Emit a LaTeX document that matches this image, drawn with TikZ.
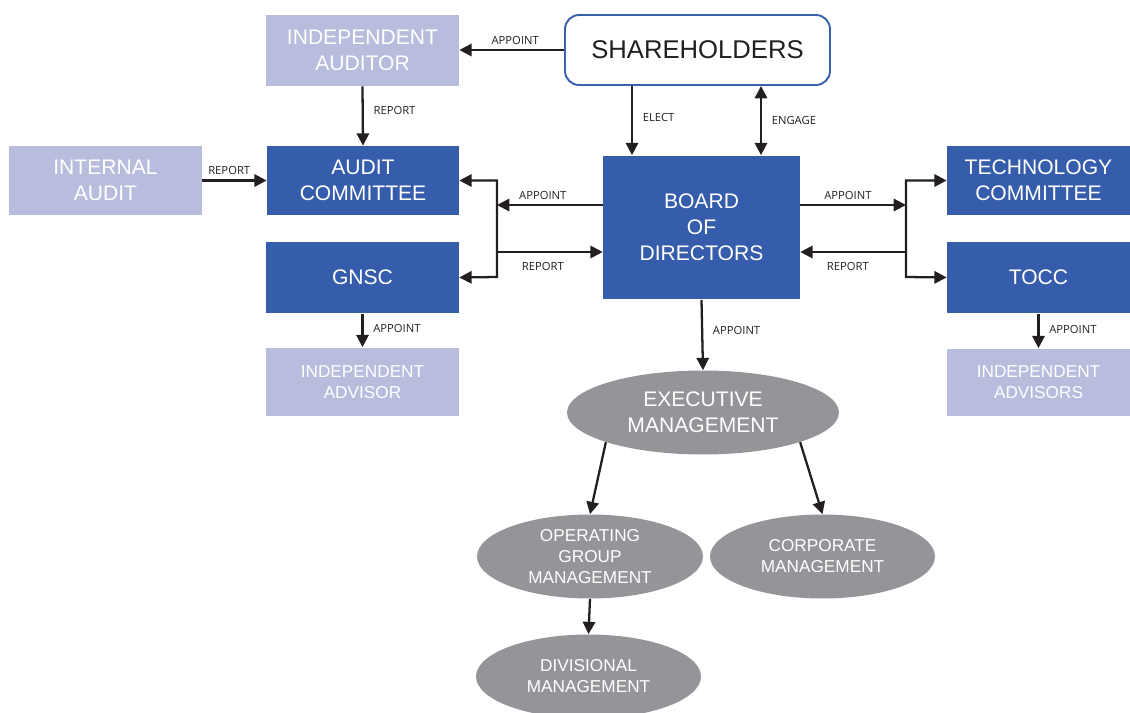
\documentclass[tikz,border=0pt]{standalone}
\usepackage{fontspec}
\setmainfont{Liberation Sans}
\newfontfamily\lblfont{Open Sans}
\usetikzlibrary{shapes.geometric,arrows.meta,calc}

\definecolor{boardblue}{HTML}{365DAB}
\definecolor{paleblue}{HTML}{B8BDDE}
\definecolor{mgmtgray}{HTML}{939598}
\definecolor{shareline}{HTML}{3A63AE}
\definecolor{inkdark}{HTML}{231F20}

\tikzset{
  bigtext/.style={font=\fontsize{12}{14.8}\selectfont},
  smalltext/.style={font=\fontsize{9.8}{12}\selectfont},
  bluebox/.style={rectangle, fill=boardblue, text=white, align=center, inner sep=0pt, bigtext},
  palebox/.style={rectangle, fill=paleblue, text=white, align=center, inner sep=0pt},
  mgmt/.style={ellipse, fill=mgmtgray, text=white, align=center, inner sep=-2pt},
  arr/.style={-{Triangle[length=7pt,width=7pt]}, line width=1.3pt, draw=inkdark},
  barr/.style={{Triangle[length=7pt,width=7pt]}-{Triangle[length=7pt,width=7pt]}, line width=1.3pt, draw=inkdark},
  lbl/.style={font=\lblfont\fontsize{6.4}{7.5}\selectfont, text=inkdark, inner sep=2.5pt}
}

\begin{document}
\begin{tikzpicture}[x=0.02cm, y=-0.02cm]
        \useasboundingbox (0,0) rectangle (1130,713);

        % Shareholders and the boxes round the board
        \node[rectangle, draw=shareline, line width=1.1pt, rounded corners=8pt, fill=white,
              text=inkdark, minimum width=5.3cm, minimum height=1.4cm,
              font=\fontsize{14.6}{16}\selectfont] (share) at (697.5,50) {SHAREHOLDERS};
        \node[palebox, bigtext, minimum width=3.86cm, minimum height=1.42cm] (indaud) at (362.5,50.5) {INDEPENDENT\\AUDITOR};
        \node[palebox, bigtext, minimum width=3.86cm, minimum height=1.38cm] (intaud) at (105.5,180.5) {INTERNAL\\AUDIT};
        \node[bluebox, minimum width=3.84cm, minimum height=1.38cm] (audit) at (363,180.5) {AUDIT\\COMMITTEE};
        \node[bluebox, minimum width=3.86cm, minimum height=1.44cm] (gnsc) at (362.5,277.5) {GNSC};
        \node[palebox, smalltext, minimum width=3.86cm, minimum height=1.38cm] (indadv) at (362.5,382) {INDEPENDENT\\ADVISOR};
        \node[bluebox, minimum width=3.94cm, minimum height=2.88cm] (board) at (701.5,227.5) {BOARD\\OF\\DIRECTORS};
        \node[bluebox, minimum width=3.66cm, minimum height=1.38cm] (tech) at (1038.5,180.5) {TECHNOLOGY\\COMMITTEE};
        \node[bluebox, minimum width=3.66cm, minimum height=1.44cm] (tocc) at (1038.5,277.5) {TOCC};
        \node[palebox, smalltext, minimum width=3.66cm, minimum height=1.36cm] (indadvs) at (1038.5,382.5) {INDEPENDENT\\ADVISORS};

        % Management ellipses
        \node[mgmt, bigtext, minimum width=5.44cm, minimum height=1.68cm] (exec) at (703,412.5) {EXECUTIVE\\MANAGEMENT};
        \node[mgmt, smalltext, minimum width=4.52cm, minimum height=1.68cm] (opgrp) at (590,556.5) {OPERATING\\GROUP\\MANAGEMENT};
        \node[mgmt, smalltext, minimum width=4.5cm, minimum height=1.68cm] (corp) at (822.5,556.5) {CORPORATE\\MANAGEMENT};
        \node[mgmt, smalltext, minimum width=4.5cm, minimum height=1.68cm] (divis) at (588.5,676.5) {DIVISIONAL\\MANAGEMENT};

        % Bracket points beside the board
        \coordinate (lbbot) at (497,277);
        \coordinate (lap) at (497,205);
        \coordinate (lrep) at (497,252);
        \coordinate (rbbot) at (906,277);
        \coordinate (rap) at (906,205);
        \coordinate (rrep) at (906,252);

        % Connectors
        \draw[arr] (share.west) -- node[lbl, above, xshift=2pt] (apaud) {APPOINT} (indaud.east |- share.west);
        \draw[arr] (indaud.south) -- node[lbl, right, xshift=3pt, yshift=3pt] (repaud) {REPORT} (audit.north);
        \draw[arr] (intaud.east) -- node[lbl, above, xshift=-3pt] (repint) {REPORT} (audit.west);
        \draw[arr] ($(share.south)+(-65.5,0)$) -- node[lbl, right, xshift=3pt, pos=0.45] (elect) {ELECT} ($(board.north)+(-69.5,0)$);
        \draw[barr] ($(share.south)+(63.5,0)$) -- node[lbl, right, xshift=3pt, pos=0.5] (engage) {ENGAGE} ($(board.north)+(59.5,0)$);

        \draw[barr] (audit.east) -| (lbbot) -- (gnsc.east);
        \draw[arr] (board.west |- lap) -- node[lbl, above, xshift=-4pt] (apleft) {APPOINT} (lap);
        \draw[arr] (lrep) -- node[lbl, below, xshift=-4pt, yshift=-3pt] (repleft) {REPORT} (board.west |- lrep);

        \draw[barr] (tech.west) -| (rbbot) -- (tocc.west);
        \draw[arr] (board.east |- rap) -- node[lbl, above, xshift=-3pt] (apright) {APPOINT} (rap);
        \draw[arr] (rrep) -- node[lbl, below, xshift=-3pt, yshift=-3pt] (repright) {REPORT} (board.east |- rrep);

        \draw[arr] (gnsc.south) -- node[lbl, right, xshift=3pt, yshift=1pt] (apgnsc) {APPOINT} (indadv.north);
        \draw[arr] (tocc.south) -- node[lbl, right, xshift=3pt, yshift=1pt] (aptocc) {APPOINT} (indadvs.north);
        \draw[arr] (board.south) -- node[lbl, right, xshift=3pt, pos=0.43] (apexec) {APPOINT} (exec.north);

        \draw[arr] (exec.197) -- (opgrp.north);
        \draw[arr] (exec.343) -- (corp.north);
        \draw[arr] (opgrp.south) -- (divis.north);
    \end{tikzpicture}
\end{document}
